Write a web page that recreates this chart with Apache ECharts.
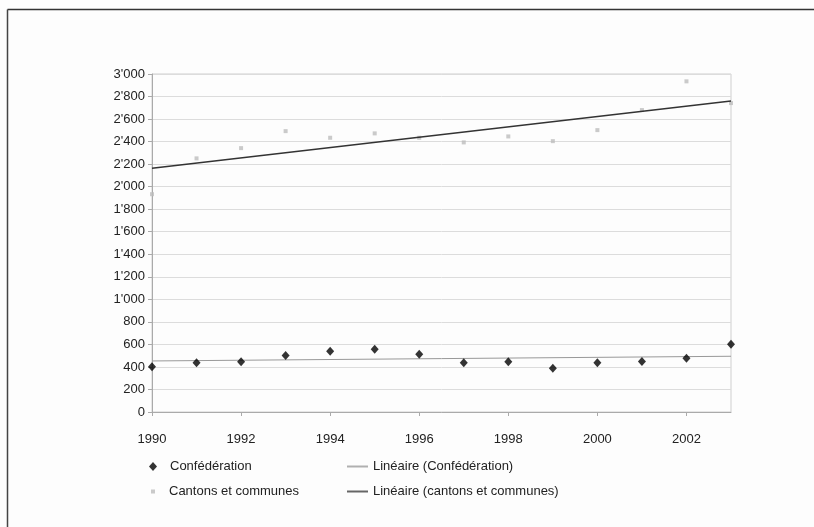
<!DOCTYPE html>
<html><head><meta charset="utf-8">
<script src="https://cdn.jsdelivr.net/npm/echarts@6/dist/echarts.min.js"></script>
<style>html,body{margin:0;padding:0;background:#fff}#c{width:814px;height:527px}</style>
</head><body><div id="c"></div>
<script>
const years = [1990,1991,1992,1993,1994,1995,1996,1997,1998,1999,2000,2001,2002,2003];
const confederation = [401,437,446,502,540,558,513,437,446,389,437,449,477,602];
const cantons = [1933,2251,2342,2493,2434,2473,2434,2393,2446,2404,2502,2680,2935,2742];
const seriesNames = ['Confédération','Cantons et communes','Linéaire (Confédération)','Linéaire (cantons et communes)'];
const xTicks = [1990,1992,1994,1996,1998,2000,2002];

function trend(xs, ys){
  const n = xs.length;
  const mx = xs.reduce((a,b)=>a+b,0)/n, my = ys.reduce((a,b)=>a+b,0)/n;
  let sxy=0,sxx=0;
  for(let i=0;i<n;i++){sxy+=(xs[i]-mx)*(ys[i]-my);sxx+=(xs[i]-mx)*(xs[i]-mx);}
  const b=sxy/sxx, a=my-b*mx;
  return [[xs[0],a+b*xs[0]],[xs[n-1],a+b*xs[n-1]]];
}
function fmt(v){
  const s = String(Math.round(v));
  return s.replace(/\B(?=(\d{3})+(?!\d))/g, "'");
}
const chart = echarts.init(document.getElementById('c'), null, {renderer:'canvas'});
const font = 'Liberation Sans, Arial, sans-serif';
function leg(name, left, top, w, h, icon, padLeft){
  return {orient:'vertical',left:left,top:top,itemWidth:w,itemHeight:h,padding:0,
    data:[{name:name,icon:icon}],
    textStyle:{color:'#222',fontSize:13,fontFamily:font,padding:[0,0,0,padLeft]}};
}
chart.setOption({
  animation:false,
  backgroundColor:'#fdfdfd',
  textStyle:{fontFamily:font},
  graphic:[
    {type:'line',shape:{x1:7.5,y1:9.5,x2:814,y2:9.5},style:{stroke:'#333',lineWidth:1.5}},
    {type:'line',shape:{x1:7.5,y1:9.5,x2:7.5,y2:527},style:{stroke:'#444',lineWidth:1.5}}
  ],
  grid:{left:152,top:74,right:83,bottom:115,show:true,borderColor:'#cfcfcf',borderWidth:1,backgroundColor:'transparent'},
  xAxis:{type:'value',min:1990,max:2003,interval:2,
    axisLine:{lineStyle:{color:'#aaa'}},
    axisTick:{show:true,length:4,lineStyle:{color:'#aaa'}},
    splitLine:{show:false},
    axisLabel:{color:'#222',fontSize:13,fontFamily:font,margin:21,showMaxLabel:false,
      formatter:v=>xTicks.includes(v)?String(v):''}},
  yAxis:{type:'value',min:0,max:3000,interval:200,
    axisLine:{show:true,lineStyle:{color:'#aaa'}},
    axisTick:{show:true,length:4,lineStyle:{color:'#aaa'}},
    splitLine:{lineStyle:{color:'#dcdcdc'}},
    axisLabel:{color:'#222',fontSize:13,fontFamily:font,margin:7,formatter:fmt}},
  legend:[
    leg(seriesNames[0],149,460,8,9,'diamond',8),
    leg(seriesNames[1],151,485,4,4,'rect',9),
    leg(seriesNames[2],347,460,21,2,'rect',0),
    leg(seriesNames[3],347,485,21,2,'rect',0)
  ],
  series:[
    {name:seriesNames[0],type:'scatter',symbol:'diamond',symbolSize:[8,9],itemStyle:{color:'#000'},
      data:years.map((y,i)=>[y,confederation[i]]),z:5},
    {name:seriesNames[1],type:'scatter',symbol:'rect',symbolSize:4,itemStyle:{color:'#bdbdbd'},
      data:years.map((y,i)=>[y,cantons[i]]),z:3},
    {name:seriesNames[2],type:'line',symbol:'none',lineStyle:{color:'#999',width:1},itemStyle:{color:'#b0b0b0'},
      data:trend(years,confederation),z:4},
    {name:seriesNames[3],type:'line',symbol:'none',lineStyle:{color:'#333',width:1.5},itemStyle:{color:'#666'},
      data:trend(years,cantons),z:4}
  ]
});
</script></body></html>
